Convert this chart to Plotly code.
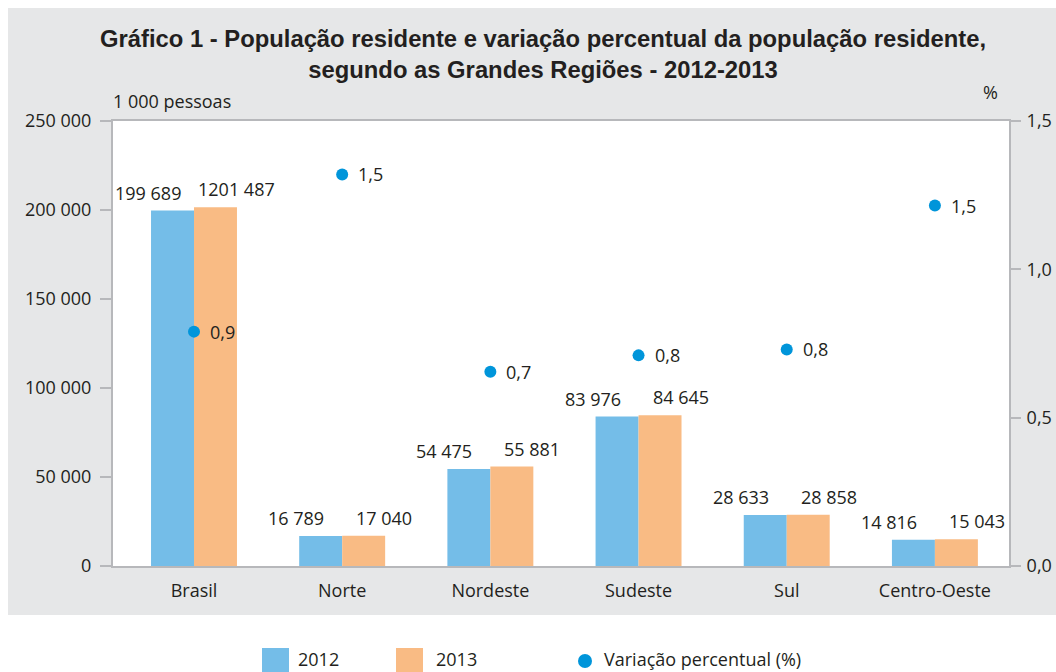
import plotly.graph_objects as go

categories = ["Brasil", "Norte", "Nordeste", "Sudeste", "Sul", "Centro-Oeste"]
pop_2012 = [199689, 16789, 54475, 83976, 28633, 14816]
pop_2013 = [201487, 17040, 55881, 84645, 28858, 15043]
labels_2012 = ["199 689", "16 789", "54 475", "83 976", "28 633", "14 816"]
labels_2013 = ["1201 487", "17 040", "55 881", "84 645", "28 858", "15 043"]
variation_pos = [0.79, 1.32, 0.655, 0.71, 0.73, 1.215]
variation_labels = ["0,9", "1,5", "0,7", "0,8", "0,8", "1,5"]

BLUE = "#74bde8"
ORANGE = "#f9bb84"
DOT = "#0095da"
PANEL = "#e6e7e8"
AXIS = "#b7b8bb"
TEXT = "#231f20"
FONT = "Open Sans, Liberation Sans, sans-serif"
TFONT = "Liberation Sans, Arial, sans-serif"
FS = 18

W, H = 1056, 672
L, R, T, B = 113, 1009, 121, 566


def px(x):
    return (x - L) / (R - L)


def py(y):
    return (B - y) / (B - T)


fig = go.Figure()
fig.add_trace(go.Bar(x=categories, y=pop_2012, name="2012", marker_color=BLUE,
                     marker_line_width=0, hoverinfo="y"))
fig.add_trace(go.Bar(x=categories, y=pop_2013, name="2013", marker_color=ORANGE,
                     marker_line_width=0, hoverinfo="y"))
fig.add_trace(go.Scatter(x=categories, y=variation_pos, yaxis="y2", mode="markers",
                         marker=dict(color=DOT, size=12), name="Variação percentual (%)"))

annotations = []
for c, v, t in zip(categories, pop_2012, labels_2012):
    annotations.append(dict(x=c, y=v, xref="x", yref="y", text=t, showarrow=False,
                            xshift=-46, yshift=4, yanchor="bottom",
                            font=dict(size=FS, color=TEXT, family=FONT)))
for c, v, t in zip(categories, pop_2013, labels_2013):
    annotations.append(dict(x=c, y=v, xref="x", yref="y", text=t, showarrow=False,
                            xshift=42, yshift=4, yanchor="bottom",
                            font=dict(size=FS, color=TEXT, family=FONT)))
for c, v, t in zip(categories, variation_pos, variation_labels):
    annotations.append(dict(x=c, y=v, xref="x", yref="y2", text=t, showarrow=False,
                            xshift=14, xanchor="left", yanchor="middle",
                            font=dict(size=FS, color=TEXT, family=FONT)))

annotations += [
    dict(x=px(543), y=py(54), xref="paper", yref="paper", showarrow=False,
         text="<b>Gráfico 1 - População residente e variação percentual da população residente,<br>segundo as Grandes Regiões - 2012-2013</b>",
         font=dict(size=23.8, color=TEXT, family=TFONT), align="center", yanchor="middle"),
    dict(x=px(111), y=py(101), xref="paper", yref="paper", showarrow=False, xanchor="left",
         yanchor="middle", text="1 000 pessoas", font=dict(size=FS, color=TEXT, family=FONT)),
    dict(x=px(1000), y=py(92), xref="paper", yref="paper", showarrow=False, yanchor="middle",
         text="%", font=dict(size=FS, color=TEXT, family=FONT)),
    dict(x=px(296), y=py(659), xref="paper", yref="paper", showarrow=False, xanchor="left",
         yanchor="middle", text="2012", font=dict(size=FS, color=TEXT, family=FONT)),
    dict(x=px(434), y=py(659), xref="paper", yref="paper", showarrow=False, xanchor="left",
         yanchor="middle", text="2013", font=dict(size=FS, color=TEXT, family=FONT)),
    dict(x=px(602), y=py(659), xref="paper", yref="paper", showarrow=False, xanchor="left",
         yanchor="middle", text="Variação percentual (%)",
         font=dict(size=FS, color=TEXT, family=FONT)),
]

shapes = [
    dict(type="rect", xref="paper", yref="paper", x0=px(8), x1=px(1060), y0=py(615), y1=py(8),
         fillcolor=PANEL, line_width=0, layer="below"),
    dict(type="rect", xref="paper", yref="paper", x0=0, x1=1, y0=0, y1=1,
         fillcolor="white", line_width=0, layer="below"),
    dict(type="rect", xref="paper", yref="paper", x0=px(262), x1=px(289), y0=py(680), y1=py(648),
         fillcolor=BLUE, line_width=0),
    dict(type="rect", xref="paper", yref="paper", x0=px(396), x1=px(423), y0=py(680), y1=py(648),
         fillcolor=ORANGE, line_width=0),
    dict(type="circle", xref="paper", yref="paper", x0=px(578), x1=px(592), y0=py(668), y1=py(654),
         fillcolor=DOT, line_width=0),
]

fig.update_layout(
    width=W, height=H,
    margin=dict(l=L, r=W - R, t=T, b=H - B, autoexpand=False),
    paper_bgcolor="white", plot_bgcolor="white",
    barmode="group", bargap=0.42, bargroupgap=0,
    separators=", ",
    showlegend=False,
    font=dict(family=FONT, size=FS, color=TEXT),
    xaxis=dict(showline=True, linecolor=AXIS, linewidth=2, mirror=True, ticks="",
               ticklabelstandoff=7,
               tickfont=dict(size=FS, color=TEXT), showgrid=False),
    yaxis=dict(range=[0, 250000], tickvals=[0, 50000, 100000, 150000, 200000, 250000],
               tickformat=",.0f", showline=True, linecolor=AXIS, linewidth=2, mirror=True,
               ticks="outside", ticklen=11, tickcolor=AXIS, tickwidth=2, showgrid=False,
               ticklabelstandoff=5,
               zeroline=False, tickfont=dict(size=FS, color=TEXT)),
    yaxis2=dict(range=[0, 1.5], tickvals=[0, 0.5, 1.0, 1.5], tickformat=".1f",
                overlaying="y", side="right", ticks="outside", ticklen=11, tickcolor=AXIS,
                tickwidth=2, showgrid=False, zeroline=False, showline=False,
                ticklabelstandoff=2,
                tickfont=dict(size=FS, color=TEXT)),
    annotations=annotations,
    shapes=shapes,
)

fig.write_html("out.html", config={"displayModeBar": False},
               post_script="document.body.style.margin='0';document.body.style.overflow='hidden';")
